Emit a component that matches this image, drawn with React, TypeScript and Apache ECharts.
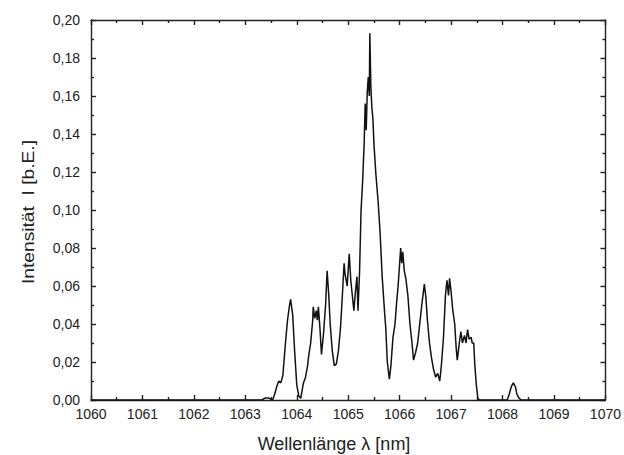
import React, { useEffect, useRef } from "react";
import * as echarts from "echarts";

const wavelength: number[] = [
  1060, 1063.32, 1063.38, 1063.46, 1063.53, 1063.57, 1063.61, 1063.65, 1063.69, 1063.73,
  1063.78, 1063.82, 1063.86, 1063.88, 1063.92, 1063.96, 1064.0, 1064.04, 1064.08, 1064.09,
  1064.13, 1064.17, 1064.21, 1064.23, 1064.27, 1064.31, 1064.32, 1064.35, 1064.38, 1064.4,
  1064.42, 1064.45, 1064.48, 1064.52, 1064.56, 1064.59, 1064.62, 1064.65, 1064.69, 1064.73,
  1064.77, 1064.81, 1064.85, 1064.88, 1064.92, 1064.94, 1064.98, 1065.02, 1065.05, 1065.08,
  1065.11, 1065.14, 1065.17, 1065.19, 1065.22, 1065.25, 1065.28, 1065.31, 1065.33, 1065.35,
  1065.37, 1065.39, 1065.41, 1065.42, 1065.44, 1065.46, 1065.48, 1065.5, 1065.54, 1065.58,
  1065.62, 1065.66, 1065.71, 1065.73, 1065.76, 1065.8, 1065.83, 1065.87, 1065.91, 1065.94,
  1065.97, 1066.0, 1066.02, 1066.04, 1066.06, 1066.09, 1066.12, 1066.16, 1066.2, 1066.24,
  1066.27, 1066.31, 1066.35, 1066.39, 1066.43, 1066.48, 1066.51, 1066.54, 1066.58, 1066.62,
  1066.66, 1066.7, 1066.74, 1066.78, 1066.81, 1066.85, 1066.89, 1066.92, 1066.95, 1066.97,
  1067.0, 1067.03, 1067.07, 1067.1, 1067.12, 1067.16, 1067.19, 1067.22, 1067.26, 1067.29,
  1067.32, 1067.35, 1067.39, 1067.41, 1067.44, 1067.46, 1067.49, 1067.52, 1067.55, 1068.09,
  1068.13, 1068.17, 1068.21, 1068.25, 1068.28, 1068.32, 1068.36, 1070,
];

const intensity: number[] = [
  0, 0, 0.001, 0.001, 0, 0.003, 0.007, 0.01, 0.009, 0.013,
  0.03, 0.042, 0.05, 0.053, 0.045, 0.025, 0.008, 0.002, 0.001, 0.003,
  0.009, 0.012, 0.018, 0.023, 0.03, 0.042, 0.049, 0.043, 0.047, 0.042,
  0.049, 0.038, 0.024, 0.035, 0.05, 0.068, 0.056, 0.04, 0.026, 0.018,
  0.019, 0.026, 0.038, 0.052, 0.072, 0.066, 0.06, 0.077, 0.063, 0.055,
  0.047, 0.057, 0.065, 0.047, 0.067, 0.1, 0.115, 0.135, 0.156, 0.142,
  0.162, 0.17, 0.16, 0.193, 0.165, 0.154, 0.148, 0.135, 0.118, 0.105,
  0.088, 0.065, 0.045, 0.038, 0.02, 0.011, 0.018, 0.033, 0.04, 0.051,
  0.06, 0.072, 0.08, 0.072, 0.078, 0.068, 0.064, 0.055, 0.04, 0.03,
  0.021, 0.025, 0.03, 0.04, 0.05, 0.061, 0.054, 0.042, 0.03, 0.022,
  0.016, 0.012, 0.014, 0.01, 0.018, 0.032, 0.055, 0.063, 0.055, 0.064,
  0.057, 0.048, 0.04, 0.027, 0.021, 0.03, 0.036, 0.03, 0.034, 0.03,
  0.037, 0.032, 0.033, 0.03, 0.03, 0.019, 0.008, 0.001, 0, 0,
  0.003, 0.007, 0.009, 0.007, 0.003, 0.001, 0, 0,
];

const xTitle = "Wellenlänge λ [nm]";
const yTitle = "Intensität  I [b.E.]";

const FONT = "Liberation Sans, Arial, sans-serif";
const AXIS_COLOR = "#222";

export default function App() {
  const ref = useRef<HTMLDivElement>(null);

  useEffect(() => {
    if (!ref.current) return;
    const chart = echarts.init(ref.current, undefined, { renderer: "svg" });
    const data = wavelength.map((x, i) => [x, intensity[i]]);
    const lineStyle = { color: AXIS_COLOR, width: 1.4 };
    const baseX = {
      type: "value" as const,
      min: 1060,
      max: 1070,
      interval: 1,
      axisLine: { show: true, onZero: false, lineStyle },
      axisTick: { show: true, inside: true, length: 5, lineStyle },
      minorTick: { show: true, splitNumber: 2, length: 3, lineStyle },
      splitLine: { show: false },
    };
    const baseY = {
      type: "value" as const,
      min: 0,
      max: 0.2,
      interval: 0.02,
      axisLine: { show: true, onZero: false, lineStyle },
      axisTick: { show: true, inside: true, length: 5, lineStyle },
      minorTick: { show: true, splitNumber: 2, length: 3, lineStyle },
      splitLine: { show: false },
    };
    chart.setOption({
      animation: false,
      backgroundColor: "#fff",
      grid: { left: 91, right: 15, top: 20, bottom: 55, containLabel: false },
      xAxis: [
        {
          ...baseX,
          position: "bottom",
          axisLabel: {
            show: true,
            margin: 7,
            fontFamily: FONT,
            fontSize: 14,
            color: AXIS_COLOR,
            formatter: (v: number) => String(Math.round(v)),
          },
        },
        {
          ...baseX,
          position: "top",
          axisLabel: { show: false },
        },
      ],
      yAxis: [
        {
          ...baseY,
          position: "left",
          axisLabel: {
            show: true,
            margin: 11,
            fontFamily: FONT,
            fontSize: 14,
            color: AXIS_COLOR,
            formatter: (v: number) => v.toFixed(2).replace(".", ","),
          },
        },
        {
          ...baseY,
          position: "right",
          axisLabel: { show: false },
        },
      ],
      graphic: [
        {
          type: "text",
          x: 334,
          y: 444,
          style: {
            text: xTitle,
            fontFamily: FONT,
            fontSize: 18,
            fill: AXIS_COLOR,
            align: "center",
            verticalAlign: "middle",
          },
        },
        {
          type: "text",
          x: 29,
          y: 212,
          rotation: Math.PI / 2,
          scaleX: 1.2,
          style: {
            text: yTitle,
            fontFamily: FONT,
            fontSize: 16,
            fill: AXIS_COLOR,
            align: "center",
            verticalAlign: "middle",
          },
        },
      ],
      series: [
        {
          type: "line",
          data,
          xAxisIndex: 0,
          yAxisIndex: 0,
          showSymbol: false,
          symbol: "none",
          lineStyle: { color: "#111", width: 1.5 },
        },
      ],
    });
    return () => chart.dispose();
  }, []);

  return (
    <div
      ref={ref}
      style={{ position: "fixed", left: 0, top: 0, width: 624, height: 455, background: "#fff" }}
    />
  );
}
